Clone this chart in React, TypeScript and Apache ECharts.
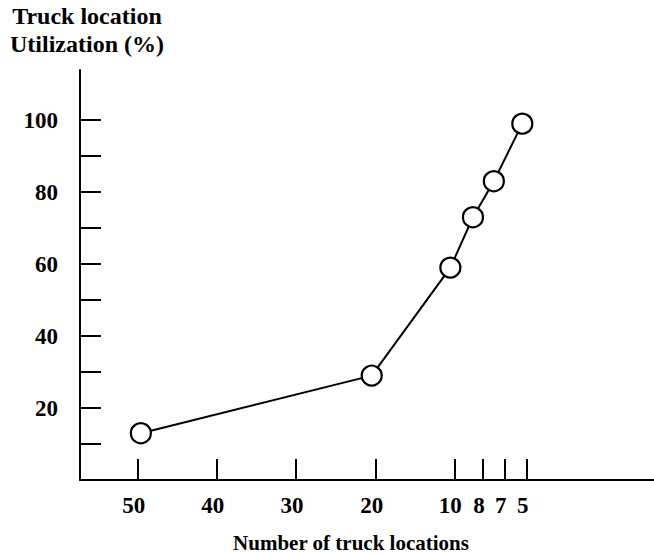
import React, { useEffect, useRef } from "react";
import * as echarts from "echarts";

// X axis: hand-drawn, non-linear scale of "Number of truck locations"
const xTickLabels = [50, 40, 30, 20, 10, 8, 7, 5];
// where each tick sits along the axis, in axis units (the axis is not linear)
const xTickScale = [57.7, 136.7, 216, 295.7, 374.3, 403, 424.7, 446.7];

// Series
const truckLocations = [49.6, 20.5, 10.5, 8.7, 7.5, 5.4];
const utilization = [13, 29, 59, 73, 83, 99];

// Y axis ticks and labels
const yTicks = [10, 20, 30, 40, 50, 60, 70, 80, 90, 100];
const yLabels = [20, 40, 60, 80, 100];

const FONT = '"Liberation Serif", "Times New Roman", serif';

function toAxis(count: number): number {
  for (let i = 0; i < xTickLabels.length - 1; i++) {
    const a = xTickLabels[i];
    const b = xTickLabels[i + 1];
    if (count <= a && count >= b) {
      const t = (a - count) / (a - b);
      return xTickScale[i] + t * (xTickScale[i + 1] - xTickScale[i]);
    }
  }
  return count > xTickLabels[0] ? xTickScale[0] : xTickScale[xTickScale.length - 1];
}

export default function App() {
  const ref = useRef<HTMLDivElement>(null);
  useEffect(() => {
    if (!ref.current) return;
    const chart = echarts.init(ref.current, undefined, { renderer: "svg" });
    const data = truckLocations.map((c, i) => [toAxis(c), utilization[i]]);
    chart.setOption({
      animation: false,
      backgroundColor: "#ffffff",
      grid: { left: 80, right: 0, top: 70, bottom: 74, containLabel: false },
      xAxis: {
        type: "value",
        min: 0,
        max: 574,
        axisLine: { show: true, onZero: false, lineStyle: { color: "#000", width: 2 } },
        axisTick: {
          show: true,
          inside: true,
          length: 21,
          customValues: xTickScale,
          lineStyle: { color: "#000", width: 2 },
        },
        axisLabel: {
          show: true,
          customValues: xTickScale,
          margin: 14,
          color: "#000",
          fontFamily: FONT,
          fontWeight: "bold",
          fontSize: 23,
          padding: [0, 8, 0, 0],
          formatter: (v: number) => {
            const i = xTickScale.findIndex((p) => Math.abs(p - v) < 0.01);
            return i >= 0 ? String(xTickLabels[i]) : "";
          },
        },
        splitLine: { show: false },
      },
      yAxis: {
        type: "value",
        min: 0,
        max: 113.9,
        axisLine: { show: true, lineStyle: { color: "#000", width: 2 } },
        axisTick: {
          show: true,
          inside: true,
          length: 21,
          customValues: yTicks,
          lineStyle: { color: "#000", width: 2 },
        },
        axisLabel: {
          show: true,
          customValues: yLabels,
          margin: 22,
          color: "#000",
          fontFamily: FONT,
          fontWeight: "bold",
          fontSize: 23,
        },
        splitLine: { show: false },
      },
      graphic: [
        {
          type: "text",
          x: 87,
          y: 2,
          style: {
            text: "Truck location\nUtilization (%)",
            fill: "#000",
            font: `bold 24px ${FONT}`,
            lineHeight: 28,
            textAlign: "center",
            textVerticalAlign: "top",
          },
        },
        {
          type: "text",
          x: 351,
          y: 543,
          style: {
            text: "Number of truck locations",
            fill: "#000",
            font: `bold 21px ${FONT}`,
            textAlign: "center",
            textVerticalAlign: "middle",
          },
        },
      ],
      series: [
        {
          type: "line",
          data,
          symbol: "circle",
          symbolSize: 20,
          showAllSymbol: true,
          lineStyle: { color: "#000", width: 2 },
          itemStyle: { color: "#fff", borderColor: "#000", borderWidth: 2.2 },
          z: 3,
        },
      ],
    });
    return () => chart.dispose();
  }, []);
  return <div ref={ref} style={{ width: 654, height: 554, position: "absolute", left: 0, top: 0 }} />;
}
